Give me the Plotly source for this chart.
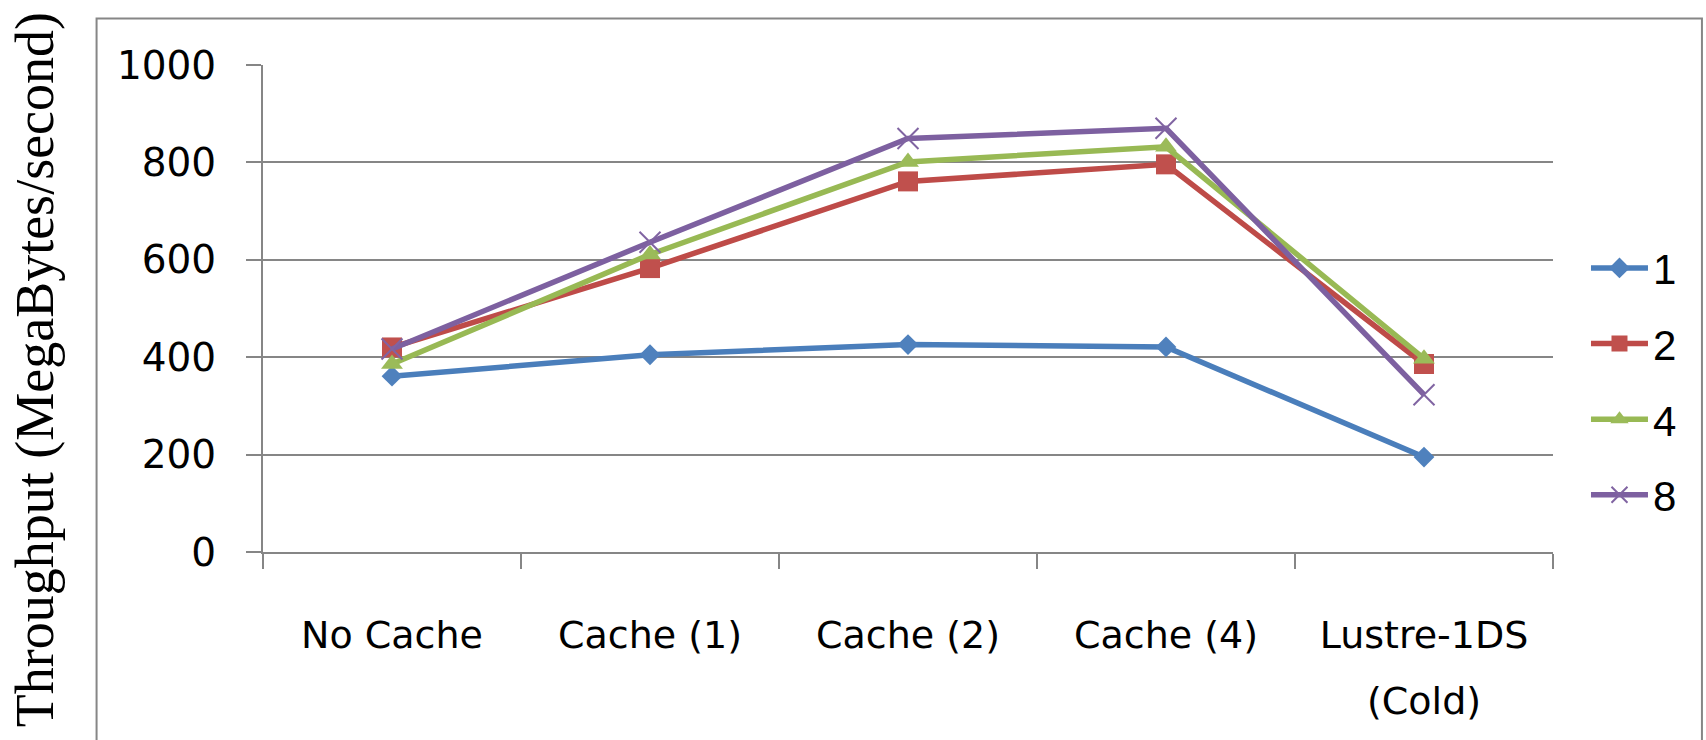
import plotly.graph_objects as go

# Throughput per cache configuration, one series per client count
categories = ["No Cache", "Cache (1)", "Cache (2)", "Cache (4)", "Lustre-1DS"]
series_names = ["1", "2", "4", "8"]
tput_1 = [361, 405, 426, 421, 195]
tput_2 = [420, 583, 761, 796, 386]
tput_4 = [386, 611, 801, 832, 397]
tput_8 = [417, 636, 849, 870, 323]
y_ticks = [0, 200, 400, 600, 800, 1000]

W, H = 1706, 740
L, R, T, B = 262.5, 153, 65, 187.5
plot_w = W - L - R
plot_h = H - T - B

def px_to_paper_x(px):
    return (px - L) / plot_w

def px_to_paper_y(py):
    return (H - B - py) / plot_h

styles = [
    dict(line="#4A7EBB", marker="#4F81BD", symbol="diamond", size=16, mline=0),
    dict(line="#BE4B48", marker="#C0504D", symbol="square", size=20, mline=0),
    dict(line="#98B954", marker="#9BBB59", symbol="triangle-up", size=19, mline=0),
    dict(line="#7D60A0", marker="#8064A2", symbol="x-thin", size=21, mline=2),
]

fig = go.Figure()
for name, vals, st in zip(series_names, [tput_1, tput_2, tput_4, tput_8], styles):
    fig.add_trace(go.Scatter(
        x=categories, y=vals, name=name, legendgroup=name,
        mode="lines+markers",
        line=dict(color=st["line"], width=5.5),
        marker=dict(symbol=st["symbol"], size=st["size"], color=st["marker"],
                    line=dict(color=st["marker"], width=st["mline"])),
    ))

axis_grey = "#868686"

fig.update_layout(
    width=W, height=H,
    margin=dict(l=L, r=R, t=T, b=B, autoexpand=False),
    paper_bgcolor="white", plot_bgcolor="white",
    showlegend=True,
    legend=dict(
        x=px_to_paper_x(1586), xanchor="left",
        y=px_to_paper_y(382), yanchor="middle",
        font=dict(family="Liberation Sans", size=42, color="black"),
        itemwidth=57, tracegroupgap=18, traceorder="grouped",
        bgcolor="rgba(0,0,0,0)",
    ),
    xaxis=dict(
        type="category", categoryorder="array", categoryarray=categories,
        range=[-0.5, 4.5],
        showgrid=False, zeroline=False,
        showline=True, linecolor=axis_grey, linewidth=2,
        ticks="outside", tickson="boundaries", ticklen=15, tickwidth=1.5, tickcolor=axis_grey,
        tickfont=dict(family="DejaVu Sans", size=38, color="black"),
        ticklabelstandoff=48,
    ),
    yaxis=dict(
        range=[0, 1000], tickvals=y_ticks,
        showgrid=True, gridcolor=axis_grey, gridwidth=2,
        zeroline=False,
        showline=True, linecolor=axis_grey, linewidth=2,
        ticks="outside", ticklen=15, tickwidth=2, tickcolor=axis_grey,
        tickfont=dict(family="DejaVu Sans", size=39, color="black"),
        ticklabelstandoff=22,
    ),
    annotations=[
        dict(text="Throughput (MegaBytes/second)", textangle=-90,
             xref="paper", yref="paper",
             x=px_to_paper_x(34), y=px_to_paper_y(370),
             xanchor="center", yanchor="middle", showarrow=False,
             font=dict(family="Liberation Serif", size=54, color="black")),
        dict(text="(Cold)", xref="x", yref="paper",
             x="Lustre-1DS", y=px_to_paper_y(702),
             xanchor="center", yanchor="middle", showarrow=False,
             font=dict(family="DejaVu Sans", size=38, color="black")),
    ],
    shapes=[
        dict(type="rect", xref="paper", yref="paper",
             x0=px_to_paper_x(96), x1=px_to_paper_x(1702),
             y0=px_to_paper_y(800), y1=px_to_paper_y(18.5),
             line=dict(color=axis_grey, width=2), fillcolor="rgba(0,0,0,0)",
             layer="below"),
    ],
)

fig.write_html("out.html")
